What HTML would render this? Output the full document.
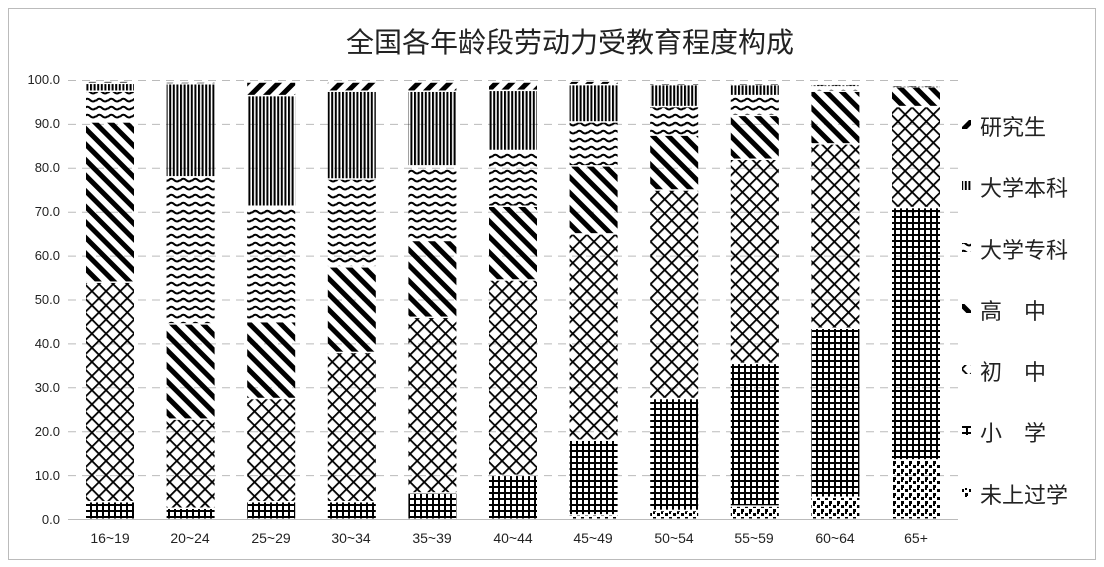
<!DOCTYPE html>
<html><head><meta charset="utf-8"><style>
html,body{margin:0;padding:0;background:#fff;}
svg{display:block;font-family:"Liberation Sans","Noto Sans CJK SC",sans-serif;}
</style></head><body>
<svg id="c" width="1104" height="567" viewBox="0 0 1104 567" xmlns="http://www.w3.org/2000/svg">
<defs>
<pattern id="p_yjs" width="11" height="11" patternUnits="userSpaceOnUse" patternTransform="rotate(45)"><rect width="5" height="11" fill="#000"/></pattern>
<pattern id="p_bk" width="3.6" height="10" patternUnits="userSpaceOnUse"><rect width="2" height="10" fill="#000"/></pattern>
<pattern id="p_zk" width="12" height="8" patternUnits="userSpaceOnUse"><path d="M0,5 Q3,1 6,4 T12,4" stroke="#000" stroke-width="2" fill="none"/></pattern>
<pattern id="p_gz" width="11" height="11" patternUnits="userSpaceOnUse" patternTransform="rotate(-45)"><rect width="5" height="11" fill="#000"/></pattern>
<pattern id="p_cz" width="10" height="10" patternUnits="userSpaceOnUse" patternTransform="rotate(45)"><rect x="0" y="0" width="1.8" height="10" fill="#000"/><rect x="0" y="0" width="10" height="1.8" fill="#000"/></pattern>
<pattern id="p_xx" width="6" height="6" patternUnits="userSpaceOnUse"><rect x="0" y="0" width="2" height="6" fill="#000"/><rect x="0" y="0" width="6" height="2" fill="#000"/></pattern>
<pattern id="p_w" width="8" height="8" patternUnits="userSpaceOnUse"><rect x="1" y="1" width="3" height="3" fill="#000"/><rect x="5" y="5" width="3" height="3" fill="#000"/><rect x="5" y="0" width="2" height="2" fill="#000"/></pattern>
</defs>
<rect x="8.5" y="8.5" width="1087" height="551" fill="#fff" stroke="#bbb"/>
<text x="570" y="52" text-anchor="middle" font-size="28" fill="#222">全国各年龄段劳动力受教育程度构成</text>
<g id="grid" stroke="#bbb" stroke-dasharray="8,6" stroke-width="1"></g>
<line x1="68" y1="519.5" x2="958" y2="519.5" stroke="#bbb"/>
<g font-size="13" fill="#222" text-anchor="end">
<text x="60" y="524">0.0</text><text x="60" y="480">10.0</text><text x="60" y="436">20.0</text><text x="60" y="392">30.0</text><text x="60" y="348">40.0</text><text x="60" y="304">50.0</text><text x="60" y="260">60.0</text><text x="60" y="216">70.0</text><text x="60" y="172">80.0</text><text x="60" y="128">90.0</text><text x="60" y="84">100.0</text>
</g>
<g id="bars"></g>
<g font-size="14" fill="#222" text-anchor="middle">
<text x="110" y="543">16~19</text><text x="190" y="543">20~24</text><text x="271" y="543">25~29</text><text x="351" y="543">30~34</text><text x="432" y="543">35~39</text><text x="513" y="543">40~44</text><text x="593" y="543">45~49</text><text x="674" y="543">50~54</text><text x="754" y="543">55~59</text><text x="835" y="543">60~64</text><text x="916" y="543">65+</text>
</g>
<g font-size="22" fill="#222">
<rect x="962" y="120" width="9" height="9" fill="url(#p_yjs)"/><text x="980" y="135">研究生</text>
<rect x="962" y="181" width="9" height="9" fill="url(#p_bk)"/><text x="980" y="196">大学本科</text>
<rect x="962" y="243" width="9" height="9" fill="url(#p_zk)"/><text x="980" y="258">大学专科</text>
<rect x="962" y="304" width="9" height="9" fill="url(#p_gz)"/><text x="980" y="319">高　中</text>
<rect x="962" y="365" width="9" height="9" fill="url(#p_cz)"/><text x="980" y="380">初　中</text>
<rect x="962" y="426" width="9" height="9" fill="url(#p_xx)"/><text x="980" y="441">小　学</text>
<rect x="962" y="488" width="9" height="9" fill="url(#p_w)"/><text x="980" y="503">未上过学</text>
</g>
</svg>
<script>
var ns="http://www.w3.org/2000/svg";
var g=document.getElementById("grid");
for(var i=1;i<=10;i++){var y=519.5-i*43.9;var l=document.createElementNS(ns,"line");l.setAttribute("x1",68);l.setAttribute("x2",958);l.setAttribute("y1",y);l.setAttribute("y2",y);g.appendChild(l);}
var pats=["p_w","p_xx","p_cz","p_gz","p_zk","p_bk","p_yjs"];
var data=[
[0,4,54,90.5,97.5,99.3,99.8],
[0,2.5,22.8,44.5,78,99.2,99.6],
[0,4,27.5,45,71.3,96.5,99.6],
[0,4,38,57.5,77.5,97.5,99.6],
[0,6,46,63.5,80.5,97.5,99.6],
[0,10,54.5,71.3,84,97.7,99.6],
[1,18,65,80.5,90.5,99,99.8],
[2,27.5,75,87.5,94,99,99.2],
[3,35.5,82,92,96.5,99,99.2],
[5,43.5,85.5,97.5,98.5,99,99.1],
[13.5,71,94,98.5,98.6,98.7,98.8]];
var b=document.getElementById("bars");
data.forEach(function(d,k){
  var x=86+k*80.6,prev=0;
  for(var j=0;j<7;j++){var top=d[j];if(top-prev>0.05){var y1=519-top*4.39,y0=519-prev*4.39;
   var r=document.createElementNS(ns,"rect");r.setAttribute("x",x);r.setAttribute("width",48);
   r.setAttribute("y",y1+1);r.setAttribute("height",Math.max(0.5,y0-y1-1.5));r.setAttribute("fill","url(#"+pats[j]+")");b.appendChild(r);}
   prev=Math.max(prev,top);}
});
</script>
</body></html>
